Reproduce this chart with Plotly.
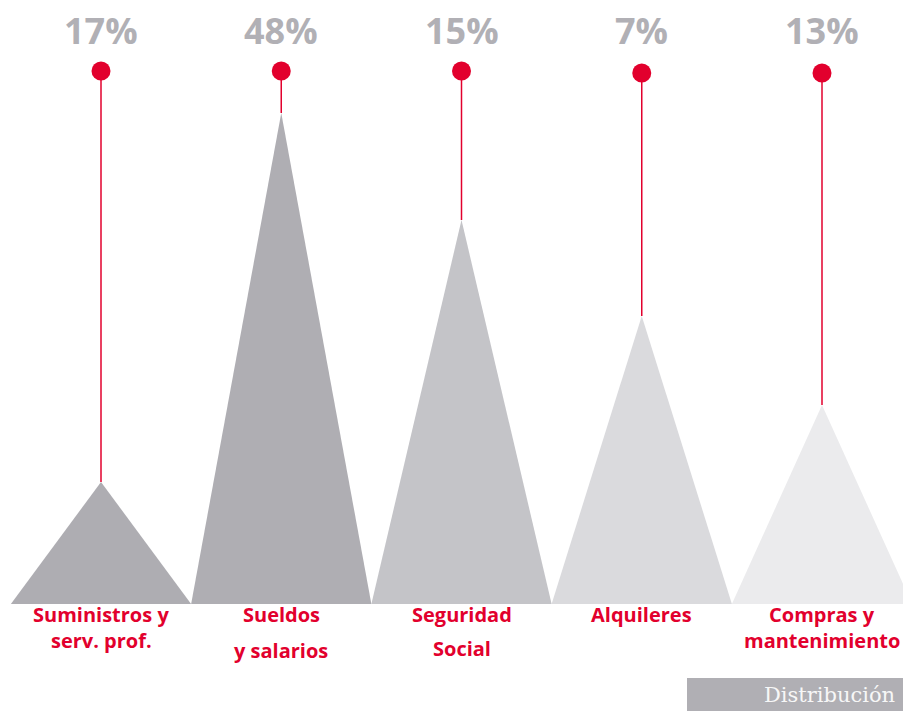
import plotly.graph_objects as go

# ---- data ----
categories = ["Suministros y serv. prof.", "Sueldos y salarios", "Seguridad Social",
              "Alquileres", "Compras y mantenimiento"]
label_lines = [["Suministros y", "serv. prof."], ["Sueldos", "y salarios"],
               ["Seguridad", "Social"], ["Alquileres"], ["Compras y", "mantenimiento"]]
percent_labels = ["17%", "48%", "15%", "7%", "13%"]
peak_heights = [122, 491, 384, 288, 199]      # triangle heights (chart units)
pin_heights = [533, 533, 533, 531, 531]        # height of the red pin heads
tri_colors = ["#aeadb2", "#afaeb3", "#c4c4c8", "#dadadd", "#ebebed"]
footer_text = "Distribución"

RED = "#e2002d"
GREY_TXT = "#b1b0b5"

fig = go.Figure()

for i, h in enumerate(peak_heights):
    fig.add_trace(go.Scatter(
        x=[i - 0.5, i, i + 0.5, i - 0.5], y=[0, h, 0, 0],
        fill="toself", fillcolor=tri_colors[i], mode="lines",
        line=dict(width=0, color=tri_colors[i]), hoverinfo="skip", showlegend=False))

for i, (h, p) in enumerate(zip(peak_heights, pin_heights)):
    fig.add_trace(go.Scatter(
        x=[i, i], y=[h, p], mode="lines", line=dict(color=RED, width=1.5),
        hoverinfo="skip", showlegend=False))

fig.add_trace(go.Scatter(
    x=list(range(len(categories))), y=pin_heights, mode="markers",
    marker=dict(color=RED, size=19), hoverinfo="skip", showlegend=False))

annotations = []
for i, t in enumerate(percent_labels):
    annotations.append(dict(x=i, y=574, text="<b>%s</b>" % t, showarrow=False,
                            xanchor="center", yanchor="middle",
                            font=dict(family="Open Sans", size=36, color=GREY_TXT)))

line_offsets = [[-10, -36], [-10, -46], [-10, -44], [-10], [-10, -36]]
for i, lines in enumerate(label_lines):
    for ln, off in zip(lines, line_offsets[i]):
        annotations.append(dict(x=i, y=off, text="<b>%s</b>" % ln, showarrow=False,
                                xanchor="center", yanchor="middle",
                                font=dict(family="Open Sans", size=20, color=RED)))

annotations.append(dict(x=762 / 903, y=(711 - 694.5) / 711, xref="paper", yref="paper",
                        text=footer_text, showarrow=False, xanchor="left", yanchor="middle",
                        font=dict(family="DejaVu Serif", size=21, color="#f7f7f7")))

fig.update_layout(
    width=903, height=711,
    margin=dict(l=0, r=0, t=0, b=0),
    paper_bgcolor="white", plot_bgcolor="white",
    xaxis=dict(range=[-101 / 180.25, (903 - 101) / 180.25], visible=False, fixedrange=True),
    yaxis=dict(range=[-107, 604], visible=False, fixedrange=True),
    annotations=annotations,
    shapes=[dict(type="rect", xref="paper", yref="paper",
                 x0=687 / 903, x1=1.0, y0=0, y1=(711 - 678) / 711,
                 fillcolor="#b0afb4", line=dict(width=0), layer="below")],
)

fig.write_html("out.html", config={"displayModeBar": False},
               post_script="document.body.style.margin='0';document.body.style.overflow='hidden';")
